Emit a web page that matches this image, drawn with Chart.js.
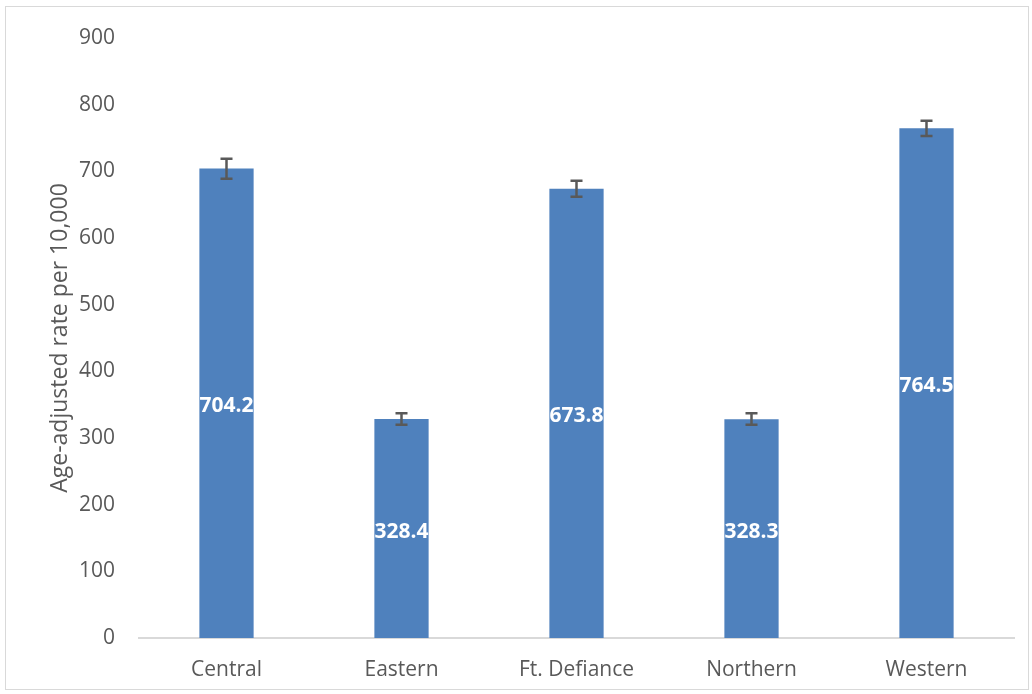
<!DOCTYPE html>
<html>
<head>
<meta charset="utf-8">
<script src="https://cdn.jsdelivr.net/npm/chart.js@4"></script>
<style>
  html, body { margin: 0; padding: 0; background: #fff; }
  #wrap { position: absolute; left: 5px; top: 6px; width: 1024px; height: 684px; border: 1px solid #d9d9d9; box-sizing: border-box; }
  canvas { display: block; }
</style>
</head>
<body>
<div id="wrap"><canvas id="chartRates"></canvas></div>
<script>
var regions = ['Central', 'Eastern', 'Ft. Defiance', 'Northern', 'Western'];
var rates = [704.2, 328.4, 673.8, 328.3, 764.5];
var lowerCI = [689, 320, 662, 320, 753];
var upperCI = [719, 337, 686, 337, 776];
var yTicks = [0, 100, 200, 300, 400, 500, 600, 700, 800, 900];

// error bars + value labels drawn through the chart's own scales
var extras = {
    id: 'extras',
    afterDatasetsDraw: function (chart) {
        var ctx = chart.ctx;
        var x = chart.scales.x, y = chart.scales.y;
        var meta = chart.getDatasetMeta(0);
        ctx.save();
        ctx.strokeStyle = '#595959';
        ctx.lineWidth = 2.5;
        for (var i = 0; i < regions.length; i++) {
            var cx = x.getPixelForValue(i);
            var top = y.getPixelForValue(upperCI[i]);
            var bot = y.getPixelForValue(lowerCI[i]);
            ctx.beginPath();
            ctx.moveTo(cx, top); ctx.lineTo(cx, bot);
            ctx.moveTo(cx - 6, top); ctx.lineTo(cx + 6, top);
            ctx.moveTo(cx - 6, bot); ctx.lineTo(cx + 6, bot);
            ctx.stroke();
        }
        ctx.fillStyle = '#ffffff';
        ctx.font = 'bold 21px "Open Sans", sans-serif';
        ctx.textAlign = 'center';
        ctx.textBaseline = 'middle';
        meta.data.forEach(function (bar, i) {
            var mid = (bar.y + bar.base) / 2 + 3;
            ctx.fillText(rates[i].toFixed(1), bar.x, mid);
        });
        ctx.restore();
    }
};

var ctx = document.getElementById('chartRates').getContext('2d');
var chartRates = new Chart(ctx, {
    type: 'bar',
    data: {
        labels: regions,
        datasets: [{
            data: rates,
            backgroundColor: '#4f81bd',
            barPercentage: 0.31,
            categoryPercentage: 1
        }]
    },
    options: {
        responsive: true,
        maintainAspectRatio: false,
        animation: false,
        layout: { padding: { left: 41, right: 14, top: 31, bottom: 4 } },
        plugins: { legend: { display: false }, tooltip: { enabled: false } },
        scales: {
            x: {
                grid: { display: false, drawTicks: false },
                border: { color: '#d9d9d9', width: 2 },
                ticks: { color: '#595959', font: { family: '"Open Sans", sans-serif', size: 21 }, padding: 19, maxRotation: 0 },
                afterFit: function (axis) {
                    axis.height = 47;
                    axis.paddingLeft = 0;
                    axis.paddingRight = 0;
                }
            },
            y: {
                min: 0,
                max: 900,
                afterBuildTicks: function (axis) {
                    axis.ticks = yTicks.map(function (v) { return { value: v }; });
                },
                afterFit: function (axis) {
                    axis.width = 92;
                    axis.paddingTop = 0;
                    axis.paddingBottom = 0;
                },
                grid: { display: false, drawTicks: false },
                border: { display: false },
                ticks: { color: '#595959', font: { family: '"Open Sans", sans-serif', size: 21 }, padding: 24 },
                title: {
                    display: true,
                    text: 'Age-adjusted rate per 10,000',
                    color: '#595959',
                    font: { family: '"Open Sans", sans-serif', size: 23 },
                    padding: { top: 0, bottom: 4 }
                }
            }
        }
    },
    plugins: [extras]
});
</script>
</body>
</html>
